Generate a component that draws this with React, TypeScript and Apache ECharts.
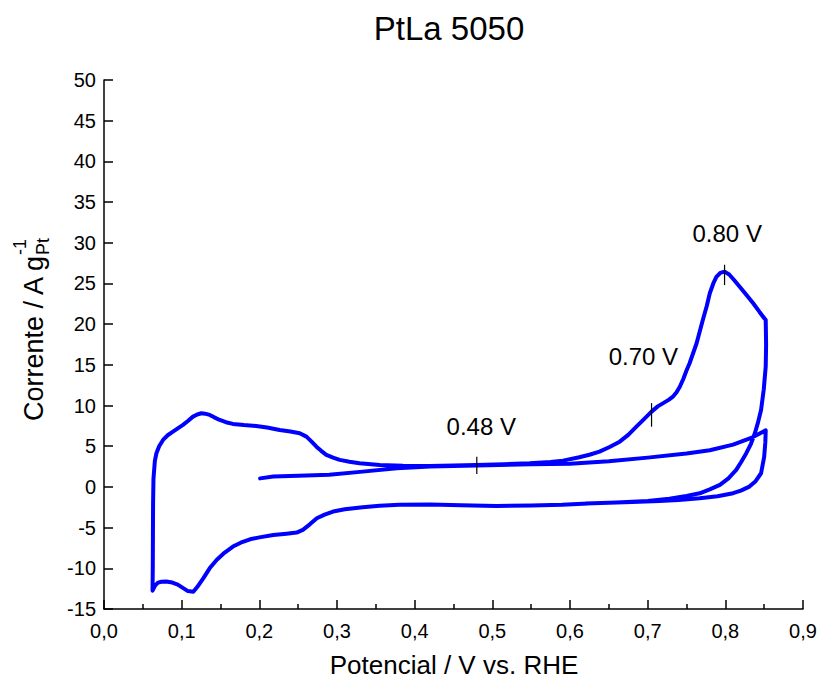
import React, { useEffect, useRef } from "react";
import * as echarts from "echarts";

const FONT = "'Liberation Sans', Arial, Helvetica, sans-serif";

// first anodic sweep, starting at 0.20 V
const anodic1X = [0.201, 0.218, 0.25, 0.29, 0.333, 0.377, 0.42, 0.48, 0.55, 0.6, 0.65, 0.7, 0.75, 0.78, 0.81, 0.835, 0.852];
const anodic1Y = [1.05, 1.27, 1.38, 1.5, 1.88, 2.3, 2.5, 2.62, 2.78, 2.85, 3.15, 3.6, 4.1, 4.5, 5.2, 6.1, 6.95];

// first cathodic sweep
const cathodic1X = [0.852, 0.8515, 0.85, 0.846, 0.839, 0.831, 0.82, 0.81, 0.79, 0.767, 0.74, 0.715, 0.68, 0.63, 0.59, 0.55, 0.505, 0.46, 0.42, 0.38, 0.355, 0.333, 0.31, 0.295, 0.284, 0.274, 0.265, 0.256, 0.248, 0.235, 0.218, 0.2, 0.188, 0.176, 0.166, 0.155, 0.145, 0.136, 0.128, 0.12, 0.115, 0.108, 0.102, 0.095, 0.088, 0.08, 0.074, 0.0695, 0.066, 0.0625];
const cathodic1Y = [6.95, 5.5, 3.7, 1.68, 0.7, 0.04, -0.45, -0.77, -1.15, -1.39, -1.6, -1.72, -1.85, -2.0, -2.2, -2.28, -2.33, -2.25, -2.15, -2.2, -2.3, -2.5, -2.75, -3.03, -3.4, -3.85, -4.6, -5.28, -5.61, -5.75, -5.9, -6.2, -6.43, -6.85, -7.33, -8.1, -8.97, -10.0, -11.2, -12.3, -12.87, -12.8, -12.44, -12.0, -11.75, -11.63, -11.65, -11.76, -12.1, -12.74];

// second anodic sweep
const anodic2X = [0.0625, 0.0628, 0.063, 0.0632, 0.0637, 0.0655, 0.0675, 0.071, 0.076, 0.082, 0.0888, 0.095, 0.1017, 0.108, 0.1146, 0.12, 0.1254, 0.13, 0.1361, 0.142, 0.149, 0.157, 0.166, 0.18, 0.196, 0.21, 0.2262, 0.24, 0.252, 0.2606, 0.267, 0.2735, 0.28, 0.2863, 0.295, 0.3035, 0.316, 0.329, 0.355, 0.385, 0.419, 0.45, 0.479, 0.515, 0.548, 0.575, 0.591, 0.612, 0.625, 0.638, 0.651, 0.664, 0.675, 0.6855, 0.695, 0.705, 0.713, 0.72, 0.727, 0.7326, 0.737, 0.7414, 0.746, 0.75, 0.754, 0.763, 0.771, 0.776, 0.78, 0.7845, 0.7885, 0.7935, 0.799, 0.805, 0.8115, 0.8185, 0.827, 0.8356, 0.844, 0.852];
const anodic2Y = [-12.74, -10, -6, -2, 1, 3.2, 4.14, 5.0, 5.77, 6.35, 6.79, 7.2, 7.62, 8.1, 8.64, 8.9, 9.05, 9.0, 8.85, 8.55, 8.23, 7.95, 7.74, 7.6, 7.49, 7.3, 7.0, 6.8, 6.6, 6.18, 5.6, 4.95, 4.4, 3.93, 3.6, 3.32, 3.1, 2.91, 2.7, 2.6, 2.58, 2.62, 2.7, 2.8, 2.9, 3.05, 3.23, 3.65, 3.95, 4.34, 4.9, 5.56, 6.4, 7.4, 8.3, 9.25, 9.9, 10.3, 10.7, 11.1, 11.6, 12.3, 13.3, 14.3, 15.2, 17.65, 20.5, 22.2, 23.8, 25.0, 25.8, 26.3, 26.45, 26.1, 25.4, 24.6, 23.6, 22.6, 21.5, 20.5];

// second cathodic sweep
const cathodic2X = [0.852, 0.8525, 0.852, 0.8495, 0.846, 0.842, 0.838, 0.833, 0.827, 0.82, 0.814, 0.804, 0.793, 0.78, 0.767, 0.75, 0.728, 0.7, 0.66, 0.62];
const cathodic2Y = [20.5, 17.5, 14.8, 12.0, 9.46, 7.9, 6.6, 5.3, 4.14, 3.0, 2.09, 1.05, 0.25, -0.3, -0.78, -1.1, -1.45, -1.72, -1.9, -2.05];

// peak markers
const markerX = [0.48, 0.705, 0.799];
const markerLow = [1.6, 7.4, 24.8];
const markerHigh = [3.7, 10.3, 27.3];
const markerText = ["0.48 V", "0.70 V", "0.80 V"];
const markerTextX = [0.4857, 0.6945, 0.8024];
const markerTextY = [7.37, 16.0, 31.1];

const X_MIN = 0;
const X_MAX = 0.9;
const X_STEP = 0.1;
const Y_MIN = -15;
const Y_MAX = 50;
const Y_STEP = 5;

const zip = (xs: number[], ys: number[]) => xs.map((x, i) => [x, ys[i]]);

export default function App() {
  const ref = useRef<HTMLDivElement>(null);
  useEffect(() => {
    const chart = echarts.init(ref.current!, null, { renderer: "svg" });
    const cvData = [
      ...zip(anodic1X, anodic1Y),
      ...zip(cathodic1X, cathodic1Y),
      ...zip(anodic2X, anodic2Y),
      ...zip(cathodic2X, cathodic2Y),
    ];
    const axisCommon = {
      axisLine: { onZero: false, lineStyle: { color: "#000", width: 1.5 } },
      splitLine: { show: false },
    };
    const markerSeries = markerX.map((x, i) => ({
      type: "line",
      data: [
        [x, markerLow[i]],
        [x, markerHigh[i]],
      ],
      showSymbol: false,
      symbol: "none",
      silent: true,
      lineStyle: { color: "#000", width: 1.2 },
      z: 5,
    }));
    chart.setOption({
      animation: false,
      grid: { left: 104, right: 18, top: 80, bottom: 73, containLabel: false },
      xAxis: {
        type: "value",
        min: X_MIN,
        max: X_MAX,
        interval: X_STEP,
        ...axisCommon,
        axisTick: { inside: true, length: 9, lineStyle: { color: "#000", width: 1.5 } },
        minorTick: { show: true, splitNumber: 2, length: 5, lineStyle: { color: "#000", width: 1.5 } },
        minorSplitLine: { show: false },
        axisLabel: {
          formatter: (v: number) => v.toFixed(1).replace(".", ","),
          color: "#000",
          fontSize: 20,
          fontFamily: FONT,
          margin: 12,
        },
      },
      yAxis: {
        type: "value",
        min: Y_MIN,
        max: Y_MAX,
        interval: Y_STEP,
        ...axisCommon,
        axisTick: { inside: true, length: 9, lineStyle: { color: "#000", width: 1.5 } },
        axisLabel: {
          color: "#000",
          fontSize: 20,
          fontFamily: FONT,
          margin: 8,
        },
      },
      graphic: [
        {
          type: "text",
          x: 449,
          y: 28,
          style: { text: "PtLa 5050", font: `33px ${FONT}`, fill: "#000", align: "center", verticalAlign: "middle" },
        },
        {
          type: "text",
          x: 454,
          y: 665,
          style: { text: "Potencial / V vs. RHE", font: `26px ${FONT}`, fill: "#000", align: "center", verticalAlign: "middle" },
        },
        {
          type: "group",
          x: 34,
          y: 256,
          rotation: Math.PI / 2,
          children: [
            {
              type: "text",
              x: 0,
              y: 0,
              style: { text: "Corrente / A g", font: `27px ${FONT}`, fill: "#000", align: "right", verticalAlign: "middle" },
            },
            {
              type: "text",
              x: 1,
              y: 9,
              style: { text: "Pt", font: `18px ${FONT}`, fill: "#000", align: "left", verticalAlign: "middle" },
            },
            {
              type: "text",
              x: 1,
              y: -14,
              style: { text: "-1", font: `18px ${FONT}`, fill: "#000", align: "left", verticalAlign: "middle" },
            },
          ],
        },
      ],
      series: [
        {
          type: "line",
          data: cvData,
          showSymbol: false,
          symbol: "none",
          smooth: false,
          lineStyle: { color: "#0000ff", width: 4, join: "round", cap: "round" },
          z: 3,
        },
        ...markerSeries,
        {
          type: "scatter",
          data: markerText.map((t, i) => ({ name: t, value: [markerTextX[i], markerTextY[i]] })),
          symbolSize: 1,
          itemStyle: { color: "rgba(0,0,0,0)" },
          silent: true,
          label: {
            show: true,
            position: "inside",
            formatter: "{b}",
            color: "#000",
            opacity: 1,
            fontSize: 24,
            fontFamily: FONT,
          },
          z: 6,
        },
      ],
    });
    return () => chart.dispose();
  }, []);
  return (
    <div
      ref={ref}
      style={{ position: "fixed", left: 0, top: 0, width: 821, height: 682, background: "#fff" }}
    />
  );
}
